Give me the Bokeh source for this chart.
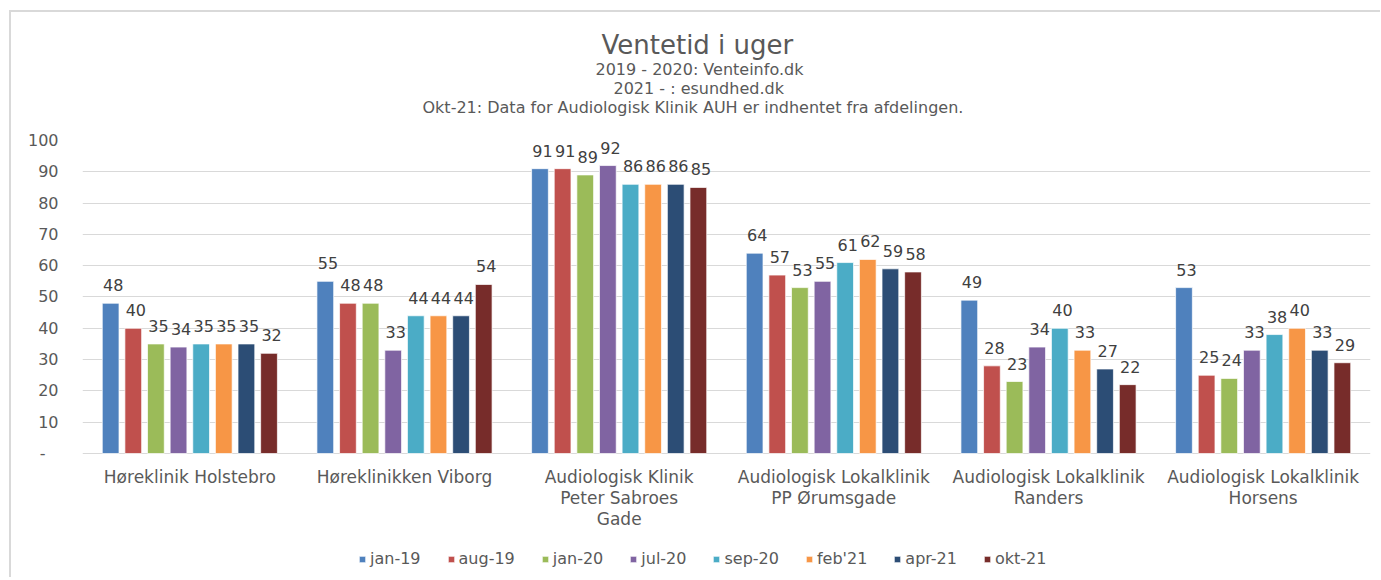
from bokeh.plotting import figure
from bokeh.models import ColumnDataSource, FactorRange, Legend, LegendItem, Title, FixedTicker
from bokeh.transform import dodge
from bokeh.core.properties import value
from bokeh.embed import file_html
from bokeh.resources import INLINE

categories = ["Høreklinik Holstebro", "Høreklinikken Viborg",
              "Audiologisk Klinik\nPeter Sabroes\nGade", "Audiologisk Lokalklinik\nPP Ørumsgade",
              "Audiologisk Lokalklinik\nRanders", "Audiologisk Lokalklinik\nHorsens"]
series_names = ["jan-19", "aug-19", "jan-20", "jul-20", "sep-20", "feb'21", "apr-21", "okt-21"]
jan_19 = [48, 55, 91, 64, 49, 53]
aug_19 = [40, 48, 91, 57, 28, 25]
jan_20 = [35, 48, 89, 53, 23, 24]
jul_20 = [34, 33, 92, 55, 34, 33]
sep_20 = [35, 44, 86, 61, 40, 38]
feb_21 = [35, 44, 86, 62, 33, 40]
apr_21 = [35, 44, 86, 59, 27, 33]
okt_21 = [32, 54, 85, 58, 22, 29]
series_values = [jan_19, aug_19, jan_20, jul_20, sep_20, feb_21, apr_21, okt_21]
y_ticks = [0, 10, 20, 30, 40, 50, 60, 70, 80, 90, 100]

colors = ["#4F81BD", "#C0504D", "#9BBB59", "#8064A2", "#4BACC6", "#F79646", "#2C4D75", "#772C2A"]

data = {"cat": categories}
for i, vals in enumerate(series_values):
    data[f"s{i}"] = vals
    data[f"l{i}"] = [str(v) for v in vals]
source = ColumnDataSource(data)

FONT = "DejaVu Sans"
GRAY = "#595959"

# the frame reaches down under the category names and legend; values 0..100 keep 313 px
p = figure(frame_width=1288, frame_height=435, x_range=FactorRange(*categories, range_padding=0),
           y_range=(-38.98, 100), output_backend="svg", toolbar_location=None,
           min_border_left=82, min_border_right=10, min_border_top=140, min_border_bottom=2)
p.outline_line_color = None
p.title = None
p.border_fill_alpha = 0
p.background_fill_color = "white"
# chart-area border (light gray, only left and top edges are inside the picture)
p.styles = {"background": "linear-gradient(#d9d9d9, #d9d9d9) 9px 10px / 2px 100% no-repeat, "
                          "linear-gradient(#d9d9d9, #d9d9d9) 9px 10px / 100% 2px no-repeat, white"}

# titles, added from the plot outward (first added sits closest to the plot)
p.add_layout(Title(text=" ", text_font=FONT, text_font_size="16px", standoff=3.5), "above")
sub_lines = [("Okt-21: Data for Audiologisk Klinik AUH er indhentet fra afdelingen.", 340),
             ("2021 - : esundhed.dk", 531),
             ("2019 - 2020: Venteinfo.dk", 513)]
for t, off in sub_lines:
    p.add_layout(Title(text=t, align="left", text_font=FONT, text_font_size="16px",
                       text_font_style="normal", text_color=GRAY,
                       standoff=-2, offset=off), "above")
p.add_layout(Title(text="Ventetid i uger", align="left", text_font=FONT, text_font_size="26px",
                   text_font_style="normal", text_color=GRAY, standoff=-2, offset=519), "above")

slot = 0.1054
bw = 0.078
items = []
for i, name in enumerate(series_names):
    off = (i - 3.5) * slot
    r = p.vbar(x=dodge("cat", off, range=p.x_range), top=f"s{i}", width=bw, source=source,
               fill_color=colors[i], line_color="white", line_alpha=0.7, line_width=1)
    p.text(x=dodge("cat", off + 0.012, range=p.x_range), y=f"s{i}", text=f"l{i}", source=source,
           text_align="center", text_baseline="alphabetic", y_offset=-18,
           text_font=value(FONT), text_font_size="16px", text_color="#404040")
    items.append(LegendItem(label=name, renderers=[r]))

# category names under the baseline
p.text(x="cat", y=0, text="cat", source=source, text_align="center", text_baseline="top",
       y_offset=14, text_font=value(FONT), text_font_size="17px", text_color=GRAY,
       text_line_height=1.03)

p.xgrid.grid_line_color = None
p.ygrid.grid_line_color = "#d9d9d9"
p.ygrid.ticker = FixedTicker(ticks=y_ticks)

p.xaxis.visible = False

p.yaxis.ticker = FixedTicker(ticks=y_ticks)
p.yaxis.major_label_overrides = {0: "-\u2002\u00a0"}
p.yaxis.axis_line_color = None
p.yaxis.major_tick_line_color = None
p.yaxis.major_tick_out = 0
p.yaxis.major_tick_in = 0
p.yaxis.minor_tick_line_color = None
p.yaxis.major_label_standoff = 24
p.yaxis.major_label_text_font = FONT
p.yaxis.major_label_text_font_size = "16px"
p.yaxis.major_label_text_color = GRAY

legend = Legend(items=items, orientation="horizontal", location=(276, 7),
                border_line_color=None, background_fill_alpha=0,
                label_text_font=FONT, label_text_font_size="16px", label_text_color=GRAY,
                glyph_width=8, glyph_height=8, label_standoff=4, spacing=26, padding=0, margin=0)
p.add_layout(legend)

open("out.html", "w").write(file_html(p, INLINE))
